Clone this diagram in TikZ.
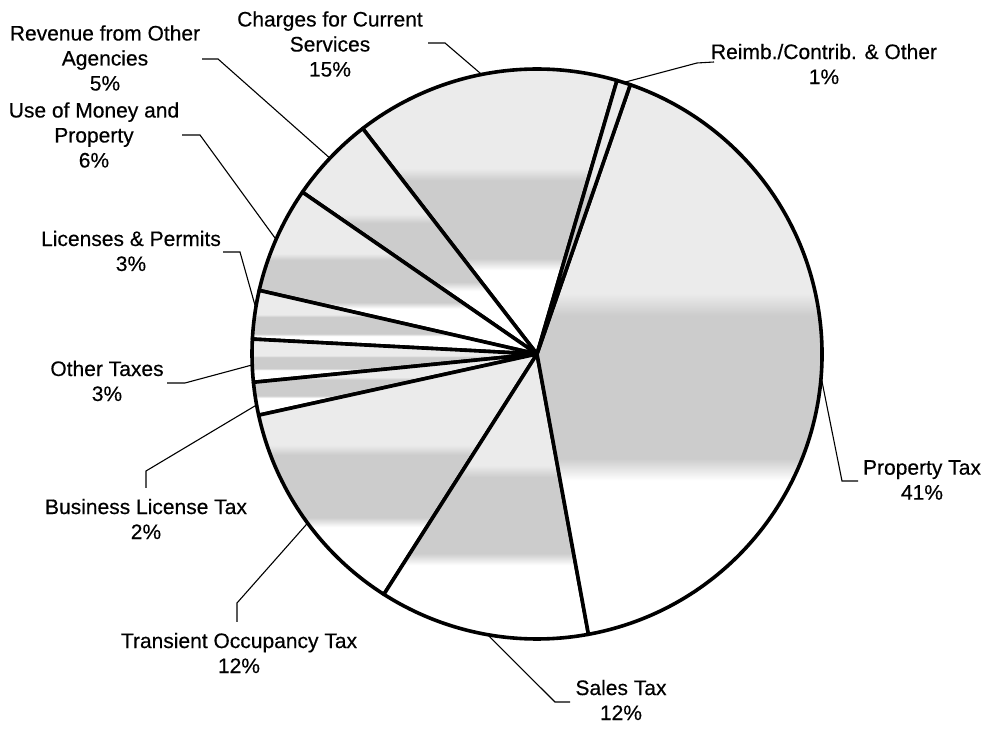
\documentclass[tikz,border=0pt]{standalone}
\usepackage{fontspec}
\setmainfont[FakeBold=0.4]{Liberation Sans}
% Slice fill: light at the top, darker band below the middle, white at the bottom
\colorlet{tintTop}{black!8}
\colorlet{tintMid}{black!20}
\pgfdeclareverticalshading{slicegrad}{100bp}{color(0bp)=(white); color(39bp)=(white); color(41bp)=(tintMid); color(54bp)=(tintMid); color(56bp)=(tintTop); color(100bp)=(tintTop)}
\tikzset{
  wedge/.style={shade, shading=slicegrad, draw=black, line width=1.8pt, line join=round},
  leader/.style={draw=black, line width=0.55pt},
  lbl/.style={align=center, inner sep=0pt, font=\fontsize{10.5}{12.5}\selectfont},
}
\begin{document}
\begin{tikzpicture}[x=0.5pt, y=0.5pt]
\useasboundingbox (0,0) rectangle (986,-731);
\coordinate (O) at (537,-354);

% pie slices (start angle / end angle, counter-clockwise)
\foreach \a/\b in {73.7/127.7, 127.7/145.4, 145.4/167.1, 167.1/177.0, 177.0/185.7,
                   185.7/192.4, 192.4/237.5, 237.5/280.4, 280.4/430.9, 430.9/433.7}
  \path[wedge] (O) -- ++(\a:285) arc[start angle=\a, end angle=\b, radius=285] -- cycle;

% points on the rim where the leaders start
\path (O) ++(101.2:285) coordinate (chg-p);
\path (O) ++(136.6:285) coordinate (rev-p);
\path (O) ++(156.3:285) coordinate (use-p);
\path (O) ++(170.7:285) coordinate (lic-p);
\path (O) ++(182.2:285) coordinate (oth-p);
\path (O) ++(190.3:285) coordinate (bus-p);
\path (O) ++(216.4:285) coordinate (tra-p);
\path (O) ++(260.0:285) coordinate (sal-p);
\path (O) ++(355.4:285) coordinate (pro-p);
\path (O) ++(72.3:285)  coordinate (rei-p);

% leader bends and free ends
\coordinate (chg-b) at (445,-43);  \coordinate (chg-e) at (428,-43);
\coordinate (rev-b) at (218,-59);  \coordinate (rev-e) at (202,-59);
\coordinate (use-b) at (200,-135); \coordinate (use-e) at (182,-135);
\coordinate (lic-b) at (240,-252); \coordinate (lic-e) at (223,-252);
\coordinate (oth-b) at (185,-383); \coordinate (oth-e) at (167,-383);
\coordinate (bus-b) at (146,-471); \coordinate (bus-e) at (146,-488);
\coordinate (tra-b) at (237,-603); \coordinate (tra-e) at (237,-622);
\coordinate (sal-b) at (555,-702); \coordinate (sal-e) at (570,-702);
\coordinate (pro-b) at (842,-481); \coordinate (pro-e) at (858,-481);
\coordinate (rei-b) at (697,-63);  \coordinate (rei-e) at (714,-62);

\foreach \k in {chg,rev,use,lic,oth,bus,tra,sal,pro,rei}
  \path[leader] (\k-p) -- (\k-b) -- (\k-e);

% labels
\node[lbl] (chg) at (330,-44)  {Charges for Current\\Services\\15\%};
\node[lbl] (rev) at (105,-58)  {Revenue from Other\\Agencies\\5\%};
\node[lbl] (use) at (94,-135)  {Use of Money and\\Property\\6\%};
\node[lbl] (lic) at (131,-251) {Licenses \& Permits\\3\%};
\node[lbl] (oth) at (107,-381) {Other Taxes\\3\%};
\node[lbl] (bus) at (146,-519) {Business License Tax\\2\%};
\node[lbl] (tra) at (239,-653) {Transient Occupancy Tax\\12\%};
\node[lbl] (sal) at (621,-700) {Sales Tax\\12\%};
\node[lbl] (pro) at (922,-480) {Property Tax\\41\%};
\node[lbl] (rei) at (824,-64)  {Reimb./Contrib. \& Other\\1\%};
\end{tikzpicture}
\end{document}
